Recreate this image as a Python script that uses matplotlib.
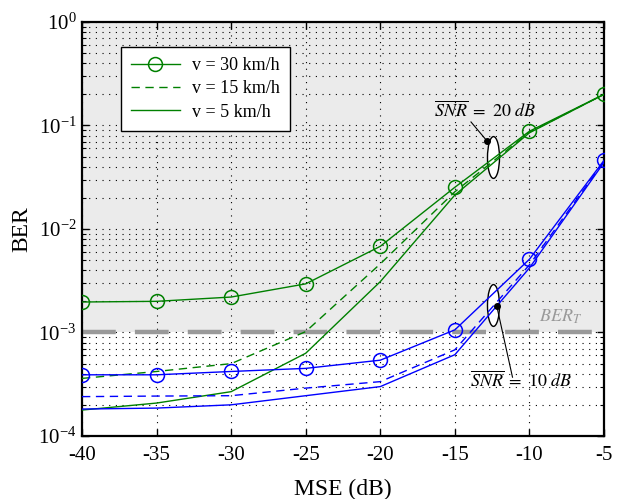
import matplotlib
matplotlib.use("Agg")
import matplotlib.pyplot as plt
from matplotlib.patches import Ellipse

plt.rcParams['font.family'] = ['Liberation Serif', 'DejaVu Serif']
plt.rcParams['mathtext.fontset'] = 'stix'
plt.rcParams['axes.unicode_minus'] = False

mse = [-40, -35, -30, -25, -20, -15, -10, -5]

# SNR = 20 dB (green)
g_v30 = [1.97e-3, 2.0e-3, 2.2e-3, 2.95e-3, 6.8e-3, 0.0253, 0.088, 0.20]
g_v15 = [3.6e-4, 4.2e-4, 5.0e-4, 1.02e-3, 4.6e-3, 0.0229, 0.086, 0.20]
g_v5 = [1.78e-4, 2.08e-4, 2.68e-4, 6.3e-4, 3.1e-3, 0.0213, 0.085, 0.20]

# SNR = 10 dB (blue)
b_v30 = [3.9e-4, 3.9e-4, 4.2e-4, 4.5e-4, 5.4e-4, 1.06e-3, 5.1e-3, 0.046]
b_v15 = [2.4e-4, 2.43e-4, 2.45e-4, 2.9e-4, 3.35e-4, 6.8e-4, 4.5e-3, 0.045]
b_v5 = [1.82e-4, 1.86e-4, 2.0e-4, 2.45e-4, 3.0e-4, 6.1e-4, 4.2e-3, 0.044]

ber_target = 1e-3
legend_labels = ['v = 30 km/h', 'v = 15 km/h', 'v = 5 km/h']

fig = plt.figure(figsize=(6.25, 4.99), dpi=100)
ax = fig.add_axes([0.1312, 0.1263, 0.8352, 0.8296])
ax.set_yscale('log')
ax.set_xlim(-40, -5)
ax.set_ylim(1e-4, 1)

ax.axhspan(ber_target, 1, color='#ebebeb', zorder=0, lw=0)
ax.set_axisbelow(True)
ax.grid(True, which='major', axis='both', linestyle=(0, (1, 5)), color='black', lw=0.8)
ax.grid(True, which='minor', axis='y', linestyle=(0, (1, 5)), color='black', lw=0.8)

green = '#008000'
blue = '#0000ff'
dash = (6, 4)
ms = 10
lw = 1.0
l1, = ax.plot(mse, g_v30, color=green, lw=lw, marker='o', ms=ms, mfc='none', mew=1.1, zorder=3)
l2, = ax.plot(mse, g_v15, color=green, lw=lw, dashes=dash, zorder=3)
l3, = ax.plot(mse, g_v5, color=green, lw=lw, zorder=3)
ax.plot(mse, b_v30, color=blue, lw=lw, marker='o', ms=ms, mfc='none', mew=1.1, zorder=3)
ax.plot(mse, b_v15, color=blue, lw=lw, dashes=dash, zorder=3)
ax.plot(mse, b_v5, color=blue, lw=lw, zorder=3)

ax.axhline(ber_target, color='#999999', lw=3.2, dashes=(7.6, 4.3), zorder=2)

# Annotations
e1 = Ellipse((0.7883, 0.6727), 0.023, 0.101, transform=ax.transAxes,
             facecolor='white', edgecolor='black', lw=1.0, zorder=2.5)
e2 = Ellipse((0.7883, 0.3152), 0.023, 0.101, transform=ax.transAxes,
             facecolor='white', edgecolor='black', lw=1.0, zorder=2.5)
ax.add_patch(e1)
ax.add_patch(e2)
ax.plot([0.7759, 0.7452], [0.7126, 0.7585], color='black', lw=0.8, transform=ax.transAxes, zorder=4)
ax.plot([0.7759], [0.7126], 'o', color='black', ms=4, transform=ax.transAxes, zorder=4)
ax.plot([0.7944, 0.8247], [0.3147, 0.1420], color='black', lw=0.8, transform=ax.transAxes, zorder=4)
ax.plot([0.7944], [0.3147], 'o', color='black', ms=4, transform=ax.transAxes, zorder=4)

ax.text(0.7720, 0.7850, r'$\overline{SNR}\ \mathit{=\ 20\ dB}$', transform=ax.transAxes,
        ha='center', va='center', fontsize=13, zorder=5)
ax.text(0.8420, 0.1340, r'$\overline{SNR}\ \mathit{=\ 10\ dB}$', transform=ax.transAxes,
        ha='center', va='center', fontsize=13, zorder=5)
ax.text(0.9160, 0.2874, r'$BER_T$', transform=ax.transAxes, color='#999999',
        ha='center', va='center', fontsize=13, zorder=5)

ax.set_xticks([-40, -35, -30, -25, -20, -15, -10, -5])
ax.set_xticklabels(['-40', '-35', '-30', '-25', '-20', '-15', '-10', '-5'])
ax.tick_params(which='both', direction='in', top=True, right=True, labelsize=15)
ax.tick_params(which='major', length=5, width=1)
ax.tick_params(which='minor', length=3, width=0.8)
ax.tick_params(axis='x', pad=7)
ax.tick_params(axis='y', pad=4)
for s in ax.spines.values():
    s.set_linewidth(1.6)

ax.set_xlabel('MSE (dB)', fontsize=17, labelpad=10)
ax.set_ylabel('BER', fontsize=17, labelpad=4)

leg = ax.legend([l1, l2, l3], legend_labels, loc='upper left',
                bbox_to_anchor=(0.0747, 0.9396), borderaxespad=0, fontsize=13,
                fancybox=False, framealpha=1, edgecolor='black', handlelength=2.7,
                handletextpad=0.7, borderpad=0.55, labelspacing=0.35)
leg.get_frame().set_linewidth(1.0)

fig.savefig('out.png', dpi=100)
